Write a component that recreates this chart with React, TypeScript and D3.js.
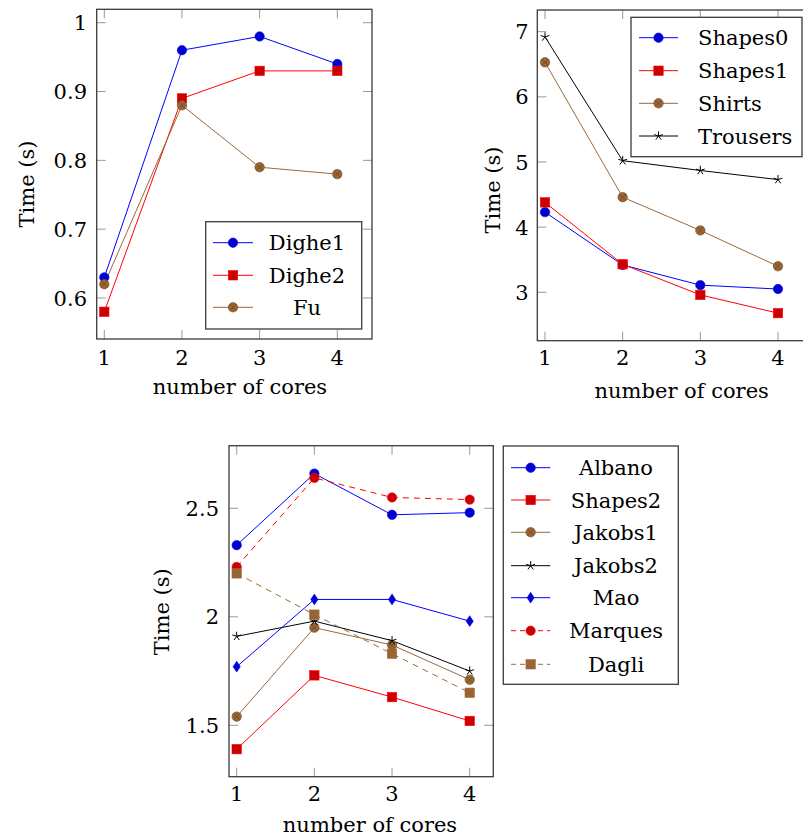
import React from "react";
import * as d3 from "d3";

// ---------------- data ----------------
const cores = [1, 2, 3, 4];

const dighe1 = [0.63, 0.96, 0.98, 0.94];
const dighe2 = [0.58, 0.89, 0.93, 0.93];
const fu = [0.62, 0.88, 0.79, 0.78];

const shapes0 = [4.23, 3.42, 3.11, 3.05];
const shapes1 = [4.38, 3.43, 2.96, 2.68];
const shirts = [6.53, 4.46, 3.95, 3.4];
const trousers = [6.92, 5.02, 4.87, 4.73];

const albano = [2.33, 2.66, 2.47, 2.48];
const shapes2 = [1.39, 1.73, 1.63, 1.52];
const jakobs1 = [1.54, 1.95, 1.87, 1.71];
const jakobs2 = [1.91, 1.98, 1.89, 1.75];
const mao = [1.77, 2.08, 2.08, 1.98];
const marques = [2.23, 2.64, 2.55, 2.54];
const dagli = [2.2, 2.01, 1.83, 1.65];

const xTicks = [1, 2, 3, 4];
const yTicks1 = [0.6, 0.7, 0.8, 0.9, 1];
const yTicks2 = [3, 4, 5, 6, 7];
const yTicks3 = [1.5, 2, 2.5];

const xLabel = "number of cores";
const yLabel = "Time (s)";

// ---------------- styles ----------------
type Mark = "circle" | "square" | "otimes" | "star" | "diamond";
interface Series {
  name: string;
  values: number[];
  line: string;
  fill: string;
  mark: Mark;
  dashed?: boolean;
}

const BLUE = { line: "#0000ff", fill: "#0000cc" };
const RED = { line: "#ff0000", fill: "#cc0000" };
const BROWN = { line: "#9a6a3a", fill: "#996633" };
const BLACK = { line: "#000000", fill: "#000000" };

const series1: Series[] = [
  { name: "Dighe1", values: dighe1, ...BLUE, mark: "circle" },
  { name: "Dighe2", values: dighe2, ...RED, mark: "square" },
  { name: "Fu", values: fu, ...BROWN, mark: "otimes" },
];
const series2: Series[] = [
  { name: "Shapes0", values: shapes0, ...BLUE, mark: "circle" },
  { name: "Shapes1", values: shapes1, ...RED, mark: "square" },
  { name: "Shirts", values: shirts, ...BROWN, mark: "otimes" },
  { name: "Trousers", values: trousers, ...BLACK, mark: "star" },
];
const series3: Series[] = [
  { name: "Albano", values: albano, ...BLUE, mark: "circle" },
  { name: "Shapes2", values: shapes2, ...RED, mark: "square" },
  { name: "Jakobs1", values: jakobs1, ...BROWN, mark: "otimes" },
  { name: "Jakobs2", values: jakobs2, ...BLACK, mark: "star" },
  { name: "Mao", values: mao, ...BLUE, mark: "diamond" },
  { name: "Marques", values: marques, ...RED, mark: "circle", dashed: true },
  { name: "Dagli", values: dagli, ...BROWN, mark: "square", dashed: true },
];

const FONT = "'DejaVu Serif', 'Liberation Serif', serif";
const FS = 21;

function Marker({ x, y, s }: { x: number; y: number; s: Series }) {
  const r = 4.7;
  if (s.mark === "circle") {
    return <circle cx={x} cy={y} r={r} fill={s.fill} stroke={s.line} strokeWidth={0.6} />;
  }
  if (s.mark === "square") {
    const h = 4.7;
    return <rect x={x - h} y={y - h} width={2 * h} height={2 * h} fill={s.fill} stroke={s.line} strokeWidth={0.6} />;
  }
  if (s.mark === "otimes") {
    const k = r * Math.SQRT1_2;
    return (
      <g>
        <circle cx={x} cy={y} r={r} fill={s.fill} stroke="#7a5230" strokeWidth={0.7} />
        <path d={`M${x - k},${y - k}L${x + k},${y + k}M${x - k},${y + k}L${x + k},${y - k}`} stroke="#6b4423" strokeWidth={0.7} />
      </g>
    );
  }
  if (s.mark === "diamond") {
    const w = 3.6, h = 5.4;
    return <path d={`M${x},${y - h}L${x + w},${y}L${x},${y + h}L${x - w},${y}Z`} fill={s.fill} stroke={s.line} strokeWidth={0.6} />;
  }
  // star: five spokes
  const rs = 4.6;
  let d = "";
  for (let k = 0; k < 5; k++) {
    const a = -Math.PI / 2 + (k * 2 * Math.PI) / 5;
    d += `M${x},${y}L${x + rs * Math.cos(a)},${y + rs * Math.sin(a)}`;
  }
  return <path d={d} stroke={s.line} strokeWidth={1} fill="none" />;
}

interface PanelProps {
  series: Series[];
  yTicks: number[];
  xRange: [number, number]; // pixel positions of x=1 and x=4
  yDomain: [number, number];
  yRange: [number, number];
  frame: { l: number; r: number; t: number; b: number };
  tickLabelBaseline: number;
  yTickRight: number;
  xLabelPos: [number, number];
  yLabelPos: [number, number];
  legend: {
    l: number; r: number; t: number; b: number;
    ys: number[];
    lineX: [number, number];
    textX: number;
    anchor: "middle" | "start";
  };
}

function Panel(p: PanelProps) {
  const x = d3.scaleLinear().domain([1, 4]).range(p.xRange);
  const y = d3.scaleLinear().domain(p.yDomain).range(p.yRange);
  const line = d3
    .line<number>()
    .x((_, i) => x(cores[i]))
    .y((v) => y(v));
  const { l, r, t, b } = p.frame;
  const TL = 9;
  const tickColor = "#999";
  const lg = p.legend;
  return (
    <g>
      <defs>
        <clipPath id={`clip-${l}-${t}`}>
          <rect x={l} y={t} width={r - l} height={b - t} />
        </clipPath>
      </defs>
      {/* ticks */}
      {xTicks.map((v) => (
        <g key={"xt" + v}>
          <line x1={x(v)} x2={x(v)} y1={b} y2={b - TL} stroke={tickColor} strokeWidth={1} />
          <line x1={x(v)} x2={x(v)} y1={t} y2={t + TL} stroke={tickColor} strokeWidth={1} />
          <text x={x(v)} y={p.tickLabelBaseline} textAnchor="middle" fontFamily={FONT} fontSize={FS}>
            {v}
          </text>
        </g>
      ))}
      {p.yTicks.map((v) => (
        <g key={"yt" + v}>
          <line x1={l} x2={l + TL} y1={y(v)} y2={y(v)} stroke={tickColor} strokeWidth={1} />
          <line x1={r} x2={r - TL} y1={y(v)} y2={y(v)} stroke={tickColor} strokeWidth={1} />
          <text x={p.yTickRight} y={y(v) + 7.5} textAnchor="end" fontFamily={FONT} fontSize={FS}>
            {String(v)}
          </text>
        </g>
      ))}
      {/* series lines */}
      <g clipPath={`url(#clip-${l}-${t})`}>
        {p.series.map((s) => (
          <path
            key={"l" + s.name}
            d={line(s.values) || ""}
            fill="none"
            stroke={s.line}
            strokeWidth={1}
            strokeDasharray={s.dashed ? "6 5" : undefined}
          />
        ))}
      </g>
      {p.series.map((s) => (
        <g key={"m" + s.name}>
          {s.values.map((v, i) => (
            <Marker key={i} x={x(cores[i])} y={y(v)} s={s} />
          ))}
        </g>
      ))}
      {/* frame */}
      <rect x={l} y={t} width={r - l} height={b - t} fill="none" stroke="#3a3a3a" strokeWidth={1.3} />
      {/* axis labels */}
      <text x={p.xLabelPos[0]} y={p.xLabelPos[1]} textAnchor="middle" fontFamily={FONT} fontSize={FS}>
        {xLabel}
      </text>
      <text
        transform={`translate(${p.yLabelPos[0]},${p.yLabelPos[1]}) rotate(-90)`}
        textAnchor="middle"
        fontFamily={FONT}
        fontSize={FS}
      >
        {yLabel}
      </text>
      {/* legend */}
      <rect x={lg.l} y={lg.t} width={lg.r - lg.l} height={lg.b - lg.t} fill="#fff" stroke="#3a3a3a" strokeWidth={1.3} />
      {p.series.map((s, i) => {
        const yy = lg.ys[i];
        const mx = (lg.lineX[0] + lg.lineX[1]) / 2;
        return (
          <g key={"lg" + s.name}>
            <line
              x1={lg.lineX[0]}
              x2={lg.lineX[1]}
              y1={yy}
              y2={yy}
              stroke={s.line}
              strokeWidth={1}
              strokeDasharray={s.dashed ? "5 4" : undefined}
            />
            <Marker x={mx} y={yy} s={s} />
            <text x={lg.textX} y={yy + 7.5} textAnchor={lg.anchor} fontFamily={FONT} fontSize={FS}>
              {s.name}
            </text>
          </g>
        );
      })}
    </g>
  );
}

export default function App() {
  return (
    <svg
      width={803}
      height={839}
      viewBox="0 0 803 839"
      style={{ position: "absolute", left: 0, top: 0, background: "#fff" }}
    >
      <rect x={0} y={0} width={803} height={839} fill="#fff" />
      <Panel
        series={series1}
        yTicks={yTicks1}
        xRange={[104.3, 337.3]}
        yDomain={[0.6, 1.0]}
        yRange={[298, 22.7]}
        frame={{ l: 96.7, r: 372, t: 9.3, b: 339 }}
        tickLabelBaseline={365}
        yTickRight={87}
        xLabelPos={[240, 394]}
        yLabelPos={[33.5, 184]}
        legend={{
          l: 205.7, r: 361.7, t: 221.7, b: 329,
          ys: [242.7, 275.3, 307.3],
          lineX: [213, 253],
          textX: 307,
          anchor: "middle",
        }}
      />
      <Panel
        series={series2}
        yTicks={yTicks2}
        xRange={[545, 778]}
        yDomain={[3, 7]}
        yRange={[292.3, 31.7]}
        frame={{ l: 537.3, r: 813, t: 10, b: 340.7 }}
        tickLabelBaseline={365}
        yTickRight={528.5}
        xLabelPos={[681.7, 398]}
        yLabelPos={[500, 190]}
        legend={{
          l: 631, r: 802, t: 17.3, b: 156.7,
          ys: [37.7, 70.7, 103.3, 136],
          lineX: [639, 678],
          textX: 698,
          anchor: "start",
        }}
      />
      <Panel
        series={series3}
        yTicks={yTicks3}
        xRange={[236.7, 469.7]}
        yDomain={[1.5, 2.5]}
        yRange={[725.3, 508.3]}
        frame={{ l: 229, r: 493.3, t: 445.7, b: 776.7 }}
        tickLabelBaseline={801}
        yTickRight={219}
        xLabelPos={[370, 832]}
        yLabelPos={[169, 611.7]}
        legend={{
          l: 503.3, r: 678.3, t: 446, b: 684.3,
          ys: [467.7, 500, 532.3, 565.7, 597.7, 630.7, 664.3],
          lineX: [511, 550.3],
          textX: 616,
          anchor: "middle",
        }}
      />
    </svg>
  );
}
